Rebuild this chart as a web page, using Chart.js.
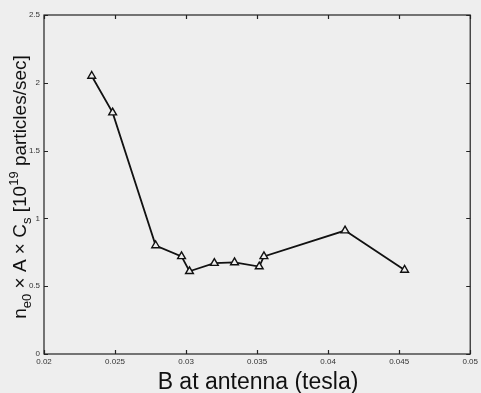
<!DOCTYPE html>
<html>
<head>
<meta charset="utf-8">
<script src="https://cdn.jsdelivr.net/npm/chart.js@4.4.1/dist/chart.umd.min.js"></script>
<style>
  html, body { margin: 0; padding: 0; background: #eeeeee; }
  #wrap { width: 481px; height: 393px; }
</style>
</head>
<body>
<div id="wrap"><canvas id="grafico" width="481" height="393"></canvas></div>
<script>
// dados
const campoB = [0.02336, 0.02483, 0.02786, 0.02968, 0.03024, 0.03199, 0.03341, 0.03515, 0.03548, 0.04119, 0.04538];
const fluxo = [2.05, 1.78, 0.80, 0.72, 0.61, 0.67, 0.675, 0.645, 0.72, 0.91, 0.62];
const ticksX = [0.02, 0.025, 0.03, 0.035, 0.04, 0.045, 0.05];
const ticksY = [0, 0.5, 1, 1.5, 2, 2.5];

const pontos = campoB.map((b, i) => ({ x: b, y: fluxo[i] }));

// fundo cinza
const fundo = {
  id: "fundo",
  beforeDraw(chart) {
    const ctx = chart.ctx;
    ctx.save();
    ctx.fillStyle = "#eeeeee";
    ctx.fillRect(0, 0, chart.width, chart.height);
    ctx.restore();
  }
};

// caixa com ticks para dentro + títulos dos eixos
const caixa = {
  id: "caixa",
  afterDraw(chart) {
    const ctx = chart.ctx;
    const a = chart.chartArea;
    const sx = chart.scales.x, sy = chart.scales.y;
    ctx.save();
    ctx.strokeStyle = "#222";
    ctx.lineWidth = 1.2;
    ctx.strokeRect(a.left, a.top, a.right - a.left, a.bottom - a.top);
    ctx.beginPath();
    ticksX.forEach(v => {
      const px = Math.round(sx.getPixelForValue(v)) + 0.5;
      ctx.moveTo(px, a.bottom); ctx.lineTo(px, a.bottom - 4);
      ctx.moveTo(px, a.top); ctx.lineTo(px, a.top + 4);
    });
    ticksY.forEach(v => {
      const py = Math.round(sy.getPixelForValue(v)) + 0.5;
      ctx.moveTo(a.left, py); ctx.lineTo(a.left + 4, py);
      ctx.moveTo(a.right, py); ctx.lineTo(a.right - 4, py);
    });
    ctx.stroke();

    // título eixo x
    ctx.fillStyle = "#111";
    ctx.font = "23px 'Liberation Sans', Arial, sans-serif";
    ctx.textAlign = "center";
    ctx.textBaseline = "alphabetic";
    ctx.fillText("B at antenna (tesla)", 258, 389);

    // título eixo y com sub/sobrescritos
    const grande = "19px 'Liberation Sans', Arial, sans-serif";
    const pequeno = "13px 'Liberation Sans', Arial, sans-serif";
    const partes = [
      { t: "n", f: grande, dy: 0 },
      { t: "e0", f: pequeno, dy: 5 },
      { t: " \u00d7 A \u00d7 C", f: grande, dy: 0 },
      { t: "s", f: pequeno, dy: 5 },
      { t: " [10", f: grande, dy: 0 },
      { t: "19", f: pequeno, dy: -8 },
      { t: " particles/sec]", f: grande, dy: 0 }
    ];
    let total = 0;
    partes.forEach(p => { ctx.font = p.f; p.w = ctx.measureText(p.t).width; total += p.w; });
    ctx.translate(26, 187);
    ctx.rotate(-Math.PI / 2);
    ctx.textAlign = "left";
    let x = -total / 2;
    partes.forEach(p => {
      ctx.font = p.f;
      ctx.fillText(p.t, x, p.dy);
      x += p.w;
    });
    ctx.restore();
  }
};

new Chart(document.getElementById("grafico"), {
  type: "line",
  data: {
    datasets: [{
      data: pontos,
      borderColor: "#111",
      borderWidth: 1.8,
      pointStyle: "triangle",
      pointRadius: 4.5,
      pointBorderWidth: 1.4,
      pointBorderColor: "#111",
      pointBackgroundColor: "#eeeeee",
      tension: 0
    }]
  },
  options: {
    responsive: false,
    animation: false,
    layout: { padding: { top: 15, right: 8, left: 0, bottom: 0 } },
    plugins: { legend: { display: false }, tooltip: { enabled: false } },
    scales: {
      x: {
        type: "linear",
        min: 0.02,
        max: 0.05,
        afterBuildTicks: s => { s.ticks = ticksX.map(v => ({ value: v })); },
        afterFit: s => { s.height = 39; },
        grid: { display: false, drawTicks: false, tickLength: 0 },
        border: { display: false },
        ticks: {
          padding: 3,
          color: "#333",
          font: { size: 8, family: "'Liberation Sans', Arial" },
          maxRotation: 0,
          callback: v => String(v)
        }
      },
      y: {
        min: 0,
        max: 2.5,
        afterBuildTicks: s => { s.ticks = ticksY.map(v => ({ value: v })); },
        afterFit: s => { s.width = 44; },
        grid: { display: false, drawTicks: false, tickLength: 0 },
        border: { display: false },
        ticks: {
          padding: 4,
          color: "#333",
          font: { size: 8, family: "'Liberation Sans', Arial" },
          callback: v => String(v)
        }
      }
    }
  },
  plugins: [fundo, caixa]
});
</script>
</body>
</html>
